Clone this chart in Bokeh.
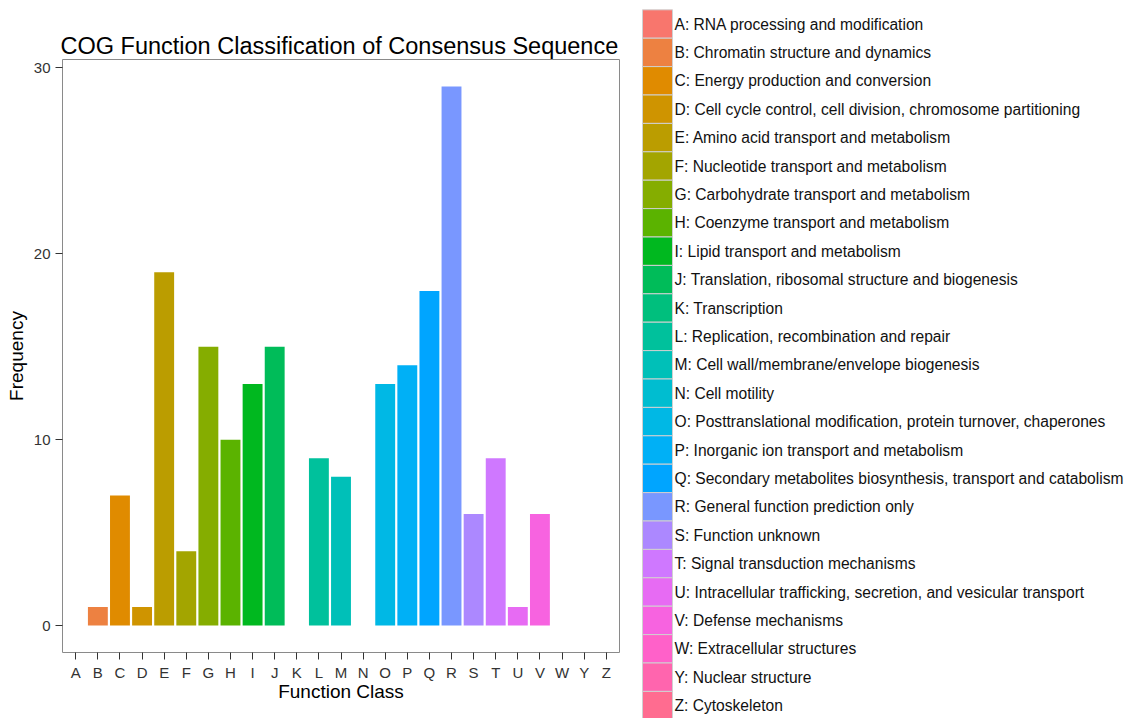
import math
from bokeh.plotting import figure
from bokeh.models import ColumnDataSource, Range1d, FixedTicker
from bokeh.layouts import row
from bokeh.embed import file_html
from bokeh.resources import INLINE
from bokeh.core.properties import value

# ---------------- data ----------------
categories = ["A", "B", "C", "D", "E", "F", "G", "H", "I", "J", "K", "L", "M",
              "N", "O", "P", "Q", "R", "S", "T", "U", "V", "W", "Y", "Z"]
frequency = [0, 1, 7, 1, 19, 4, 15, 10, 13, 15, 0, 9, 8,
             0, 13, 14, 18, 29, 6, 9, 1, 6, 0, 0, 0]
descriptions = [
    "RNA processing and modification",
    "Chromatin structure and dynamics",
    "Energy production and conversion",
    "Cell cycle control, cell division, chromosome partitioning",
    "Amino acid transport and metabolism",
    "Nucleotide transport and metabolism",
    "Carbohydrate transport and metabolism",
    "Coenzyme transport and metabolism",
    "Lipid transport and metabolism",
    "Translation, ribosomal structure and biogenesis",
    "Transcription",
    "Replication, recombination and repair",
    "Cell wall/membrane/envelope biogenesis",
    "Cell motility",
    "Posttranslational modification, protein turnover, chaperones",
    "Inorganic ion transport and metabolism",
    "Secondary metabolites biosynthesis, transport and catabolism",
    "General function prediction only",
    "Function unknown",
    "Signal transduction mechanisms",
    "Intracellular trafficking, secretion, and vesicular transport",
    "Defense mechanisms",
    "Extracellular structures",
    "Nuclear structure",
    "Cytoskeleton",
]
y_ticks = [0, 10, 20, 30]
title_text = "COG Function Classification of Consensus Sequence"
x_label = "Function Class"
y_label = "Frequency"


# ---------------- colours (ggplot2 default hue palette) ----------------
def hcl_hex(h, c=100.0, l=65.0):
    wu, wv, wy = 0.1978398, 0.4683363, 100.0
    hr = math.radians(h)
    u = c * math.cos(hr)
    v = c * math.sin(hr)
    Y = wy * (((l + 16.0) / 116.0) ** 3 if l > 7.999592 else l / 903.3)
    t = wu + u / (13.0 * l)
    s = wv + v / (13.0 * l)
    X = 9.0 * Y * t / (4.0 * s)
    Z = -X / 3.0 - 5.0 * Y + 3.0 * Y / s
    x, y, z = X / wy, Y / wy, Z / wy
    r = 3.240479 * x - 1.537150 * y - 0.498535 * z
    g = -0.969256 * x + 1.875992 * y + 0.041556 * z
    b = 0.055648 * x - 0.204043 * y + 1.057311 * z

    def gam(t):
        t = 1.055 * (t ** (1 / 2.4)) - 0.055 if t > 0.00304 else 12.92 * t
        return int(round(255 * min(1.0, max(0.0, t))))

    return "#%02X%02X%02X" % (gam(r), gam(g), gam(b))


n = len(categories)
colors = [hcl_hex(15 + 360.0 * i / n) for i in range(n)]

FONT = value("Liberation Sans")

# ---------------- bar chart ----------------
src = ColumnDataSource(dict(x=list(range(n)), top=frequency, color=colors, cat=categories))

p = figure(width=630, height=718, output_backend="svg", toolbar_location=None,
           x_range=Range1d(-0.6, n - 1 + 0.6), y_range=Range1d(-1.45, 30.45),
           min_border_left=62, min_border_right=11, min_border_top=59, min_border_bottom=66,
           title=title_text)
p.frame_align = False
p.vbar(x="x", top="top", bottom=0, width=0.9, fill_color="color", line_color=None, source=src)

p.title.text_font = "Liberation Sans"
p.title.text_font_size = "23.5px"
p.title.text_font_style = "normal"
p.title.text_color = "#000000"
p.title.offset = -2
p.title.standoff = 1

p.xgrid.visible = False
p.ygrid.visible = False
p.outline_line_color = "#8a8a8a"
p.outline_line_width = 1
p.background_fill_color = "white"
p.border_fill_color = "white"

p.xaxis.ticker = FixedTicker(ticks=list(range(n)))
p.xaxis.major_label_overrides = {i: c for i, c in enumerate(categories)}
p.yaxis.ticker = FixedTicker(ticks=y_ticks)

for ax in (p.xaxis[0], p.yaxis[0]):
    ax.axis_line_color = None
    ax.minor_tick_line_color = None
    ax.major_tick_in = 0
    ax.major_tick_out = 7
    ax.major_tick_line_color = "#333333"
    ax.major_label_text_font = "Liberation Sans"
    ax.major_label_text_font_size = "15px"
    ax.major_label_text_color = "#333333"
    ax.axis_label_text_font = "Liberation Sans"
    ax.axis_label_text_font_size = "19px"
    ax.axis_label_text_font_style = "normal"
    ax.axis_label_text_color = "#000000"

p.xaxis.major_label_standoff = 4
p.xaxis.axis_label = x_label
p.xaxis.axis_label_standoff = -3
p.yaxis.major_label_standoff = 5
p.yaxis.axis_label = y_label
p.yaxis.axis_label_standoff = 4

# ---------------- legend (drawn as its own panel) ----------------
LW, LH = 509, 718
key_h = 28.4
key_top0 = 9.3
lg = figure(width=LW, height=LH, output_backend="svg", toolbar_location=None,
            x_range=Range1d(0, LW), y_range=Range1d(LH, 0),
            min_border=0, min_border_left=0, min_border_right=0,
            min_border_top=0, min_border_bottom=0)
lg.frame_align = False
lg.axis.visible = False
lg.grid.visible = False
lg.outline_line_color = None

tops = [key_top0 + i * key_h for i in range(n)]
lsrc = ColumnDataSource(dict(
    top=tops,
    bottom=[t + key_h for t in tops],
    mid=[t + key_h / 2 for t in tops],
    color=colors,
    label=["%s: %s" % (c, d) for c, d in zip(categories, descriptions)],
))
lg.quad(left=12, right=42, top="top", bottom="bottom", fill_color="color",
        line_color="#d0d0d0", line_width=1, source=lsrc)
lg.text(x=44, y="mid", text="label", text_font=FONT, text_font_size="15.6px",
        text_baseline="middle", text_align="left", text_color="#111111", source=lsrc)

layout = row(p, lg)
open("out.html", "w").write(file_html(layout, INLINE))
